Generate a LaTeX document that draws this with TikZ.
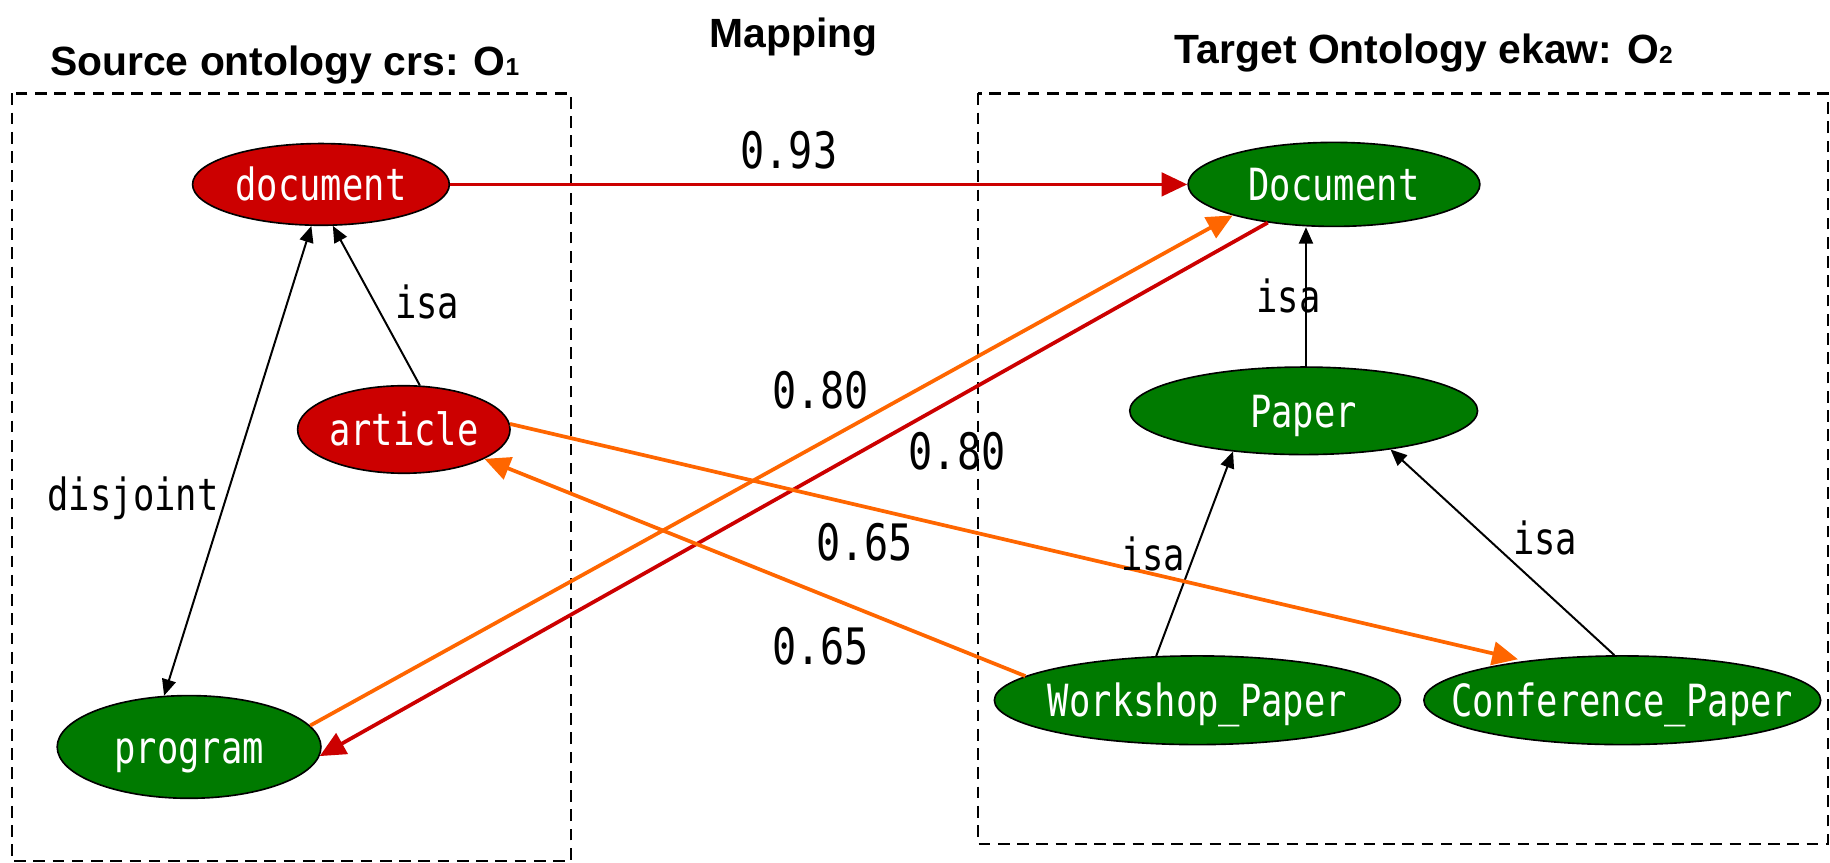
\documentclass[tikz,border=0pt]{standalone}
\usepackage{fontspec}
\usetikzlibrary{shapes.geometric,arrows.meta,calc}
\newfontfamily\monofont{DejaVu Sans Mono}[FakeStretch=0.8]
\newfontfamily\titlefont{Liberation Sans}
\definecolor{nodered}{HTML}{CC0000}
\definecolor{nodegreen}{HTML}{007A00}
\definecolor{maporange}{HTML}{FF6600}
\tikzset{
  ontlabel/.style={inner sep=0pt, text=white, text height=28pt, text depth=0pt,
    font=\monofont\fontsize{38}{38}\selectfont},
  ont/.style={ellipse, draw=black, line width=1.4pt, inner sep=0pt},
  rednode/.style={ont, fill=nodered},
  greennode/.style={ont, fill=nodegreen},
  isaedge/.style={draw=black, line width=1.7pt, -{Triangle[length=14pt,width=12pt]}},
  disjedge/.style={draw=black, line width=1.7pt, {Triangle[length=14pt,width=12pt]}-{Triangle[length=14pt,width=12pt]}},
  mapred/.style={draw=nodered, line width=3.2pt, -{Triangle[length=22pt,width=20pt]}},
  maporg/.style={draw=maporange, line width=3.2pt, -{Triangle[length=22pt,width=20pt]}},
  lbl/.style={font=\monofont\fontsize{38}{38}\selectfont, anchor=base, inner sep=0pt},
  num/.style={font=\monofont\fontsize{43}{43}\selectfont, anchor=base, inner sep=0pt},
  ttl/.style={font=\titlefont\bfseries\fontsize{35}{35}\selectfont, anchor=base, inner sep=0pt},
  ontbox/.style={draw=black, line width=2pt, dash pattern=on 10pt off 6.5pt}
}
\begin{document}
\begin{tikzpicture}[x=1pt, y=-1pt]
\useasboundingbox (0,0) rectangle (1568,739);
% dashed boxes
\draw[ontbox] (10,80) rectangle (489,738);
\draw[ontbox] (838,80) rectangle (1566,723);
% titles
\node[ttl] (t1) at (244,65) {Source ontology crs: O{\fontsize{21}{21}\selectfont 1}};
\node[ttl] (t2) at (680,41) {Mapping};
\node[ttl] (t3) at (1220,54) {Target Ontology ekaw: O{\fontsize{21}{21}\selectfont 2}};
% nodes
\node[rednode, minimum width=220pt, minimum height=70pt, label={[ontlabel]center:document}] (document) at (275,158) {};
\node[rednode, minimum width=182pt, minimum height=75pt, label={[ontlabel]center:article}] (article) at (346,368) {};
\node[greennode, minimum width=226pt, minimum height=88pt, label={[ontlabel]center:program}] (program) at (162,640) {};
\node[greennode, minimum width=250pt, minimum height=72pt, label={[ontlabel]center:Document}] (Document) at (1143,158) {};
\node[greennode, minimum width=298pt, minimum height=75pt, label={[ontlabel]center:Paper}] (Paper) at (1117,352) {};
\node[greennode, minimum width=348pt, minimum height=76pt, label={[ontlabel]center:Workshop\_Paper}] (Workshop) at (1026,600) {};
\node[greennode, minimum width=340pt, minimum height=76pt, label={[ontlabel]center:Conference\_Paper}] (Conference) at (1390,600) {};
% source ontology edges
\draw[isaedge] (article.70) -- (document.-74);
\draw[disjedge] (document.-103) -- (program.116);
% target ontology edges
\draw[isaedge] (Paper.87) -- (Paper.87 |- Document.south);
\draw[isaedge] (Workshop.133) -- (Paper.-150);
\draw[isaedge] (Conference.100) -- (Paper.-24);
% mappings
\draw[mapred] (document.east) -- (Document.west);
\draw[maporg] (program.10) -- (Document.-163);
\draw[mapred] (Document.-150) -- (program.-4);
\draw[maporg, shorten >=6pt] (article.3) -- (Conference.158);
\draw[maporg] (Workshop.172) -- (article.-20);
% labels
\node[lbl] (l1) at (366,273) {isa};
\node[lbl] (l2) at (114,437) {disjoint};
\node[lbl] (l3) at (1104,268) {isa};
\node[lbl] (l4) at (988,489) {isa};
\node[lbl] (l5) at (1324,475) {isa};
\node[num] (n1) at (676,144) {0.93};
\node[num] (n2) at (703,350) {0.80};
\node[num] (n3) at (820,402) {0.80};
\node[num] (n4) at (741,480) {0.65};
\node[num] (n5) at (703,569) {0.65};
\end{tikzpicture}
\end{document}
